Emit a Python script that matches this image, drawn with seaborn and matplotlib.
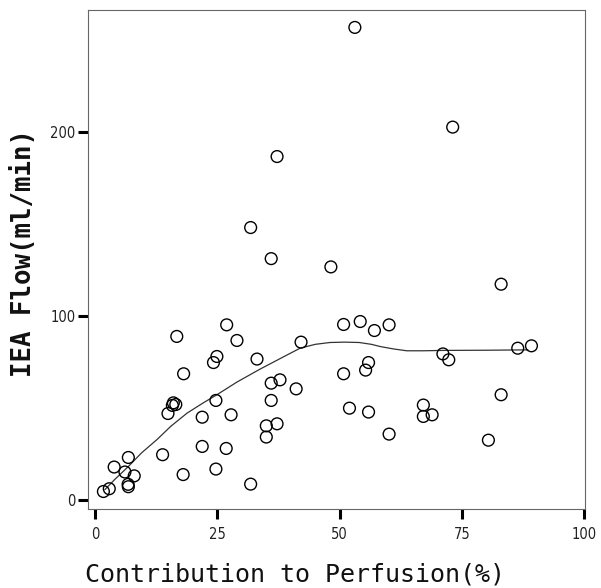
import matplotlib
matplotlib.use('Agg')
import matplotlib.pyplot as plt
import pandas as pd
import seaborn as sns

# Points
contribution = [1.7, 2.9, 3.9, 6.1, 6.8, 8.0, 6.75, 6.8, 13.8, 18.0,
                16.7, 18.1, 16.0, 16.5, 15.8, 14.9, 21.9, 21.9, 24.7, 24.7,
                24.9, 24.2, 26.9, 29.0, 27.8, 26.8, 31.8, 33.1, 36.0, 37.8,
                36.0, 35.0, 35.0, 37.2, 41.1, 42.1, 50.8, 50.8, 52.0, 54.2,
                57.1, 60.1, 55.9, 55.3, 55.9, 60.1, 67.1, 67.1, 68.9, 71.1,
                72.3, 83.0, 83.0, 80.4, 86.4, 89.2, 53.1, 37.2, 31.8, 36.0,
                48.2, 73.1]
iea_flow = [4.5, 6.0, 17.8, 15.1, 23.0, 13.0, 8.4, 7.1, 24.5, 13.7,
            88.8, 68.5, 52.7, 51.8, 51.3, 46.9, 44.9, 29.0, 16.7, 54.0,
            77.9, 74.6, 95.1, 86.6, 46.2, 27.9, 8.5, 76.5, 63.4, 65.2,
            54.0, 40.2, 34.1, 41.3, 60.3, 85.7, 95.3, 68.5, 49.8, 96.9,
            92.0, 95.1, 74.6, 70.5, 47.7, 35.7, 51.5, 45.3, 46.2, 79.3,
            76.1, 117.2, 57.1, 32.4, 82.4, 83.7, 256.8, 186.6, 148.0, 131.1,
            126.6, 202.6]

# Smoothed fit line
fit_x = [2, 4, 6.8, 9.5, 12.6, 15.5, 18.8, 22, 24.9, 29, 33.7, 38, 41.9,
         45, 48, 51, 54, 56.5, 58.3, 61, 63.7, 67, 71.2, 80, 88.5]
fit_y = [5.5, 11, 18.1, 25.5, 32.6, 40, 47.1, 52.5, 57.1, 64, 71.0, 77, 82.4,
         84.5, 85.5, 85.7, 85.5, 84.5, 83.3, 82, 81.0, 81.0, 81.2, 81.3, 81.5]

df = pd.DataFrame({'contribution': contribution, 'flow': iea_flow})
df_fit = pd.DataFrame({'x': fit_x, 'y': fit_y})

sns.set_theme(style='white')
plt.rcParams['font.family'] = ['DejaVu Sans']
plt.rcParams['font.stretch'] = 'condensed'

fig = plt.figure(figsize=(6.01, 5.88), dpi=100)
ax = fig.add_axes([0.146, 0.1344, 0.827, 0.8487])

sns.lineplot(data=df_fit, x='x', y='y', ax=ax, color='#333333', linewidth=0.9, sort=False)
sns.scatterplot(data=df, x='contribution', y='flow', ax=ax, marker='o', s=72,
                facecolor='none', edgecolor='black', linewidth=1.0, zorder=3)

ax.set_xlim(-1.5, 100.1)
ax.set_ylim(-5, 266.3)
ax.set_xticks([0, 25, 50, 75, 100])
ax.set_yticks([0, 100, 200])

for s in ax.spines.values():
    s.set_color('#666666')
    s.set_linewidth(0.8)

ax.tick_params(axis='both', direction='out', length=7, width=2.2, color='black',
               labelsize=10.5, labelcolor='#222222')
ax.tick_params(axis='y', left=True, pad=2)
ax.tick_params(axis='x', bottom=True, pad=6)

ax.set_xlabel('Contribution to Perfusion(%)', family='DejaVu Sans Mono',
              fontstretch='normal', fontsize=18, color='#111111')
ax.set_ylabel('IEA Flow(ml/min)', family='DejaVu Sans Mono', fontstretch='normal',
              fontweight='bold', fontsize=18.5, color='#111111')
ax.xaxis.set_label_coords(0.416, -0.108)
ax.yaxis.set_label_coords(-0.102, 0.513)

fig.savefig('out.png', dpi=100)
